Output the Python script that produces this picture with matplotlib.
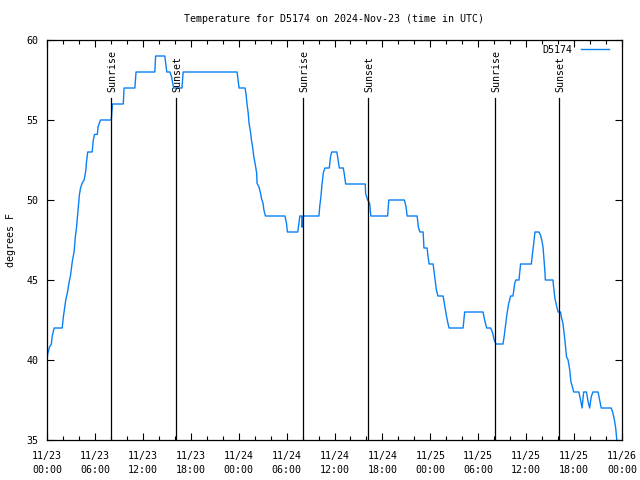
import matplotlib
matplotlib.use('Agg')
import matplotlib.pyplot as plt
from matplotlib.ticker import MultipleLocator, FixedLocator
import matplotlib.transforms as mtransforms

# hours since 2024-11-23 00:00 UTC
hours = [0.0, 0.1, 0.3, 0.55, 0.65, 0.9, 1.9, 2.05, 2.2, 2.35, 2.55, 2.75, 2.95, 3.15,
         3.4, 3.55, 3.7, 3.9, 4.05, 4.2, 4.4, 4.65, 4.85, 4.95, 5.1, 5.65, 5.8, 5.95,
         6.3, 6.4, 6.7, 8.05, 8.2, 9.55, 9.65, 11.0, 11.15, 13.5, 13.6, 14.75, 15.0,
         15.4, 15.6, 15.75, 15.85, 16.9, 17.05, 23.8, 24.05, 24.8, 24.9, 25.05, 25.2,
         25.3, 25.5, 25.6, 25.75, 25.9, 26.05, 26.25, 26.3, 26.55, 26.75, 26.85, 27.05,
         27.15, 27.35, 29.8, 30.0, 30.1, 31.4, 31.6, 31.65, 31.9, 31.95, 32.05, 32.3,
         34.05, 34.15, 34.3, 34.4, 34.6, 34.8, 35.35, 35.5, 35.65, 36.3, 36.45, 36.6,
         37.1, 37.2, 37.4, 39.85, 39.9, 40.15, 40.4, 40.55, 42.65, 42.8, 44.75, 44.95,
         45.1, 46.35, 46.5, 46.7, 47.1, 47.2, 47.6, 47.7, 47.85, 48.35, 48.45, 48.6,
         48.75, 48.95, 49.6, 49.8, 50.0, 50.2, 50.35, 52.1, 52.3, 54.6, 54.8, 55.05,
         55.55, 55.8, 55.95, 56.2, 57.1, 57.25, 57.45, 57.6, 57.8, 58.05, 58.35, 58.55,
         58.7, 59.1, 59.3, 60.65, 60.8, 60.95, 61.1, 61.6, 61.8, 61.95, 62.1, 62.2,
         62.35, 62.4, 63.35, 63.45, 63.6, 63.8, 64.0, 64.3, 64.4, 64.6, 64.85, 65.05,
         65.25, 65.45, 65.6, 65.8, 65.95, 66.6, 66.85, 67.0, 67.2, 67.55, 67.75, 67.95,
         68.15, 68.35, 69.0, 69.2, 69.4, 70.65, 70.85, 71.05, 71.2, 71.35]
temps = [40.0, 40.4, 40.8, 41.0, 41.5, 42.0, 42.0, 42.7, 43.25, 43.75, 44.2, 44.8, 45.3, 46.1,
         46.8, 47.7, 48.3, 49.4, 50.3, 50.75, 51.05, 51.25, 51.8, 52.4, 53.0, 53.0, 53.75, 54.1,
         54.1, 54.6, 55.0, 55.0, 56.0, 56.0, 57.0, 57.0, 58.0, 58.0, 59.0, 59.0, 58.0,
         58.0, 57.7, 57.3, 57.0, 57.0, 58.0, 58.0, 57.0, 57.0, 56.7, 56.0, 55.4,
         54.8, 54.2, 53.75, 53.3, 52.7, 52.3, 51.7, 51.05, 50.8, 50.4, 50.1, 49.8,
         49.4, 49.0, 49.0, 48.5, 48.0, 48.0, 48.75, 49.0, 49.0, 48.3, 49.0, 49.0,
         49.0, 49.6, 50.2, 50.8, 51.7, 52.0, 52.0, 52.7, 53.0, 53.0, 52.5, 52.0,
         52.0, 51.7, 51.0, 51.0, 50.4, 50.0, 49.8, 49.0, 49.0, 50.0, 50.0, 49.6,
         49.0, 49.0, 48.3, 48.0, 48.0, 47.0, 47.0, 46.5, 46.0, 46.0, 45.6, 45.0,
         44.4, 44.0, 44.0, 43.4, 42.8, 42.3, 42.0, 42.0, 43.0, 43.0, 42.5, 42.0,
         42.0, 41.7, 41.35, 41.0, 41.0, 41.5, 42.3, 42.9, 43.5, 44.0, 44.0, 44.75,
         45.0, 45.0, 46.0, 46.0, 46.7, 47.3, 48.0, 48.0, 47.8, 47.5, 47.1, 46.5,
         45.5, 45.0, 45.0, 44.5, 43.85, 43.4, 43.0, 43.0, 42.7, 42.3, 41.25, 40.2,
         40.0, 39.4, 38.65, 38.3, 38.0, 38.0, 37.4, 37.0, 38.0, 38.0, 37.4, 37.0,
         37.7, 38.0, 38.0, 37.5, 37.0, 37.0, 36.7, 36.25, 35.8, 35.0]

sun_hours = [8.0, 16.15, 32.05, 40.15, 56.05, 64.1]
sun_labels = ['Sunrise', 'Sunset', 'Sunrise', 'Sunset', 'Sunrise', 'Sunset']

tick_hours = list(range(0, 73, 6))
tick_labels = ['11/23\n00:00', '11/23\n06:00', '11/23\n12:00', '11/23\n18:00',
               '11/24\n00:00', '11/24\n06:00', '11/24\n12:00', '11/24\n18:00',
               '11/25\n00:00', '11/25\n06:00', '11/25\n12:00', '11/25\n18:00',
               '11/26\n00:00']

plt.rcParams['font.family'] = 'DejaVu Sans Mono'
plt.rcParams['font.size'] = 7.2

fig = plt.figure(figsize=(6.4, 4.8), dpi=100)
ax = fig.add_axes([47 / 640, 40 / 480, 575 / 640, 400 / 480])

ax.plot(hours, temps, color='#0a80f5', linewidth=1.0, label='D5174')

trans = mtransforms.blended_transform_factory(ax.transData, ax.transAxes)
for h, lab in zip(sun_hours, sun_labels):
    ax.axvline(h, ymin=0, ymax=0.855, color='black', linewidth=0.9)
    ax.text(h + 0.2, 0.87, lab, transform=trans, rotation=90,
            ha='center', va='bottom')

ax.set_xlim(0, 72)
ax.set_ylim(35, 60)
ax.xaxis.set_major_locator(FixedLocator(tick_hours))
ax.set_xticklabels(tick_labels, linespacing=1.5)
ax.xaxis.set_minor_locator(MultipleLocator(2))
ax.yaxis.set_major_locator(MultipleLocator(5))
ax.tick_params(which='both', direction='in', top=True, right=True, width=0.8)
ax.tick_params(which='major', length=5)
ax.tick_params(axis='x', which='major', pad=8)
ax.tick_params(axis='y', which='major', pad=6)
ax.tick_params(which='minor', length=3)
for s in ax.spines.values():
    s.set_linewidth(0.9)

ax.set_ylabel('degrees F', labelpad=8)
ax.set_title('Temperature for D5174 on 2024-Nov-23 (time in UTC)',
             fontsize=7.2, pad=13)

ax.legend(loc='upper right', bbox_to_anchor=(0.977, 0.988), frameon=False,
          markerfirst=False, handlelength=2.8, borderaxespad=0, borderpad=0,
          handletextpad=0.8)

fig.savefig('out.png', dpi=100)
